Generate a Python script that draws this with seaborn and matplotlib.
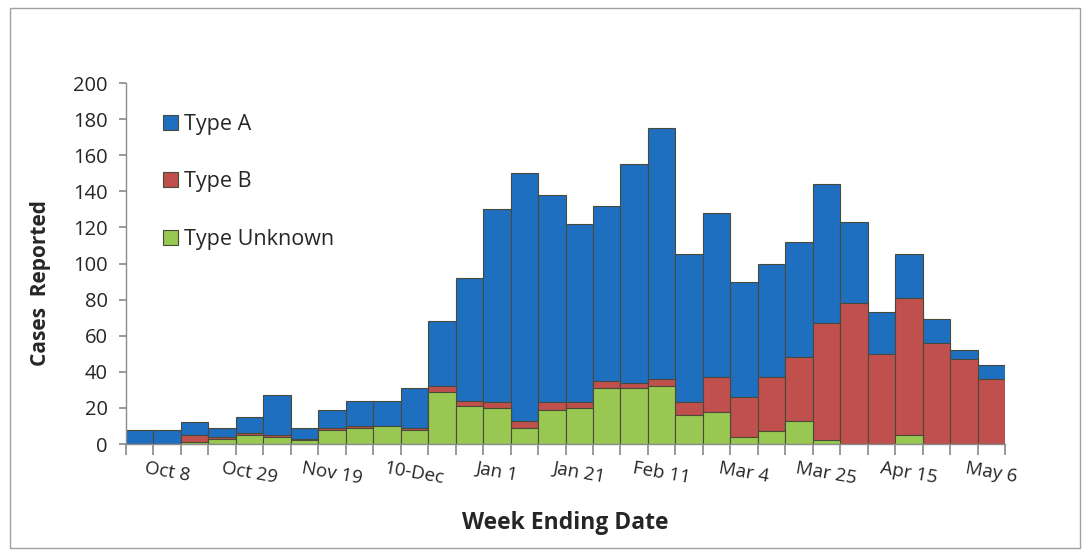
import numpy as np
import pandas as pd
import seaborn as sns
import matplotlib.pyplot as plt
from matplotlib.patches import Rectangle

# week ending dates (32 weeks, label shown every 3rd week)
weeks = ["Oct 1", "Oct 8", "Oct 15", "Oct 22", "Oct 29", "Nov 5", "Nov 12", "Nov 19",
         "Nov 26", "Dec 3", "10-Dec", "Dec 17", "Dec 24", "Jan 1", "Jan 7", "Jan 14",
         "Jan 21", "Jan 28", "Feb 4", "Feb 11", "Feb 18", "Feb 25", "Mar 4", "Mar 11",
         "Mar 18", "Mar 25", "Apr 1", "Apr 8", "Apr 15", "Apr 22", "Apr 29", "May 6"]
shown_labels = ["Oct 8", "Oct 29", "Nov 19", "10-Dec", "Jan 1", "Jan 21",
                "Feb 11", "Mar 4", "Mar 25", "Apr 15", "May 6"]

type_a = [8, 8, 7, 5, 9, 22, 6, 10, 14, 14, 22, 36, 68, 107, 137, 115,
          99, 97, 121, 139, 82, 91, 64, 63, 64, 77, 45, 23, 24, 13, 5, 8]
type_b = [0, 0, 4, 1, 1, 1, 1, 1, 1, 0, 1, 3, 3, 3, 4, 4,
          3, 4, 3, 4, 7, 19, 22, 30, 35, 65, 78, 50, 76, 56, 47, 36]
type_unknown = [0, 0, 1, 3, 5, 4, 2, 8, 9, 10, 8, 29, 21, 20, 9, 19,
                20, 31, 31, 32, 16, 18, 4, 7, 13, 2, 0, 0, 5, 0, 0, 0]

df = pd.DataFrame({"week": weeks, "A": type_a, "B": type_b, "U": type_unknown})
df["top_u"] = df["U"]
df["top_b"] = df["U"] + df["B"]
df["top_a"] = df["U"] + df["B"] + df["A"]

sns.set_theme(style="white")
plt.rcParams["font.family"] = ["Open Sans", "DejaVu Sans"]

blue = "#1f6fc1"
red = "#c0504d"
green = "#98c852"
edge = "#4a4a3a"
grey = "#8c8c8c"
txt = "#262626"

fig = plt.figure(figsize=(10.89, 5.56), dpi=100)
ax = fig.add_axes([126 / 1089, 1 - 444 / 556, 879 / 1089, 361 / 556])

# stacked bars drawn as cumulative layers
common = dict(x="week", order=weeks, width=1, saturation=1, errorbar=None,
              edgecolor=edge, linewidth=0.8, ax=ax)
sns.barplot(data=df, y="top_a", color=blue, label="Type A", **common)
sns.barplot(data=df, y="top_b", color=red, label="Type B", **common)
sns.barplot(data=df, y="top_u", color=green, label="Type Unknown", **common)

ax.set_xlim(-0.5, len(weeks) - 0.5)
ax.set_ylim(0, 200)
ax.set_yticks(np.arange(0, 201, 20))
ax.tick_params(axis="y", left=True, length=5, color=grey, labelsize=14.5, pad=8,
               labelcolor=txt)

# tick marks between bars, labels under every 3rd bar
ax.set_xticks(np.arange(-0.5, len(weeks), 1))
ax.set_xticklabels([])
ax.tick_params(axis="x", which="major", bottom=True, length=8, color=grey)
pos = [weeks.index(w) for w in shown_labels]
ax.set_xticks(pos, minor=True)
ax.set_xticklabels(shown_labels, minor=True, rotation=-10, fontsize=13.5,
                   color=txt)
ax.tick_params(axis="x", which="minor", bottom=True, length=0, pad=11)

for s in ["top", "right"]:
    ax.spines[s].set_visible(False)
for s in ["left", "bottom"]:
    ax.spines[s].set_color(grey)
    ax.spines[s].set_linewidth(1)

ax.set_xlabel("Week Ending Date", fontsize=16.5, fontweight="bold", color=txt)
ax.xaxis.set_label_coords(0.5, -0.185)
ax.set_ylabel("Cases  Reported", fontsize=15, fontweight="bold", color=txt)
ax.yaxis.set_label_coords(-0.085, 0.445)

ax.legend(loc="upper left", bbox_to_anchor=(0.042, 0.915), frameon=False,
          fontsize=15.5, labelspacing=1.7, handlelength=0.7, handleheight=0.7,
          handletextpad=0.3, borderaxespad=0, borderpad=0)

# outer frame like the source picture
fig.patches.append(Rectangle((10 / 1089, 8 / 556), 1070 / 1089, 540 / 556,
                             transform=fig.transFigure, fill=False,
                             edgecolor="#a0a0a0", linewidth=1))

fig.savefig("out.png", dpi=100)
